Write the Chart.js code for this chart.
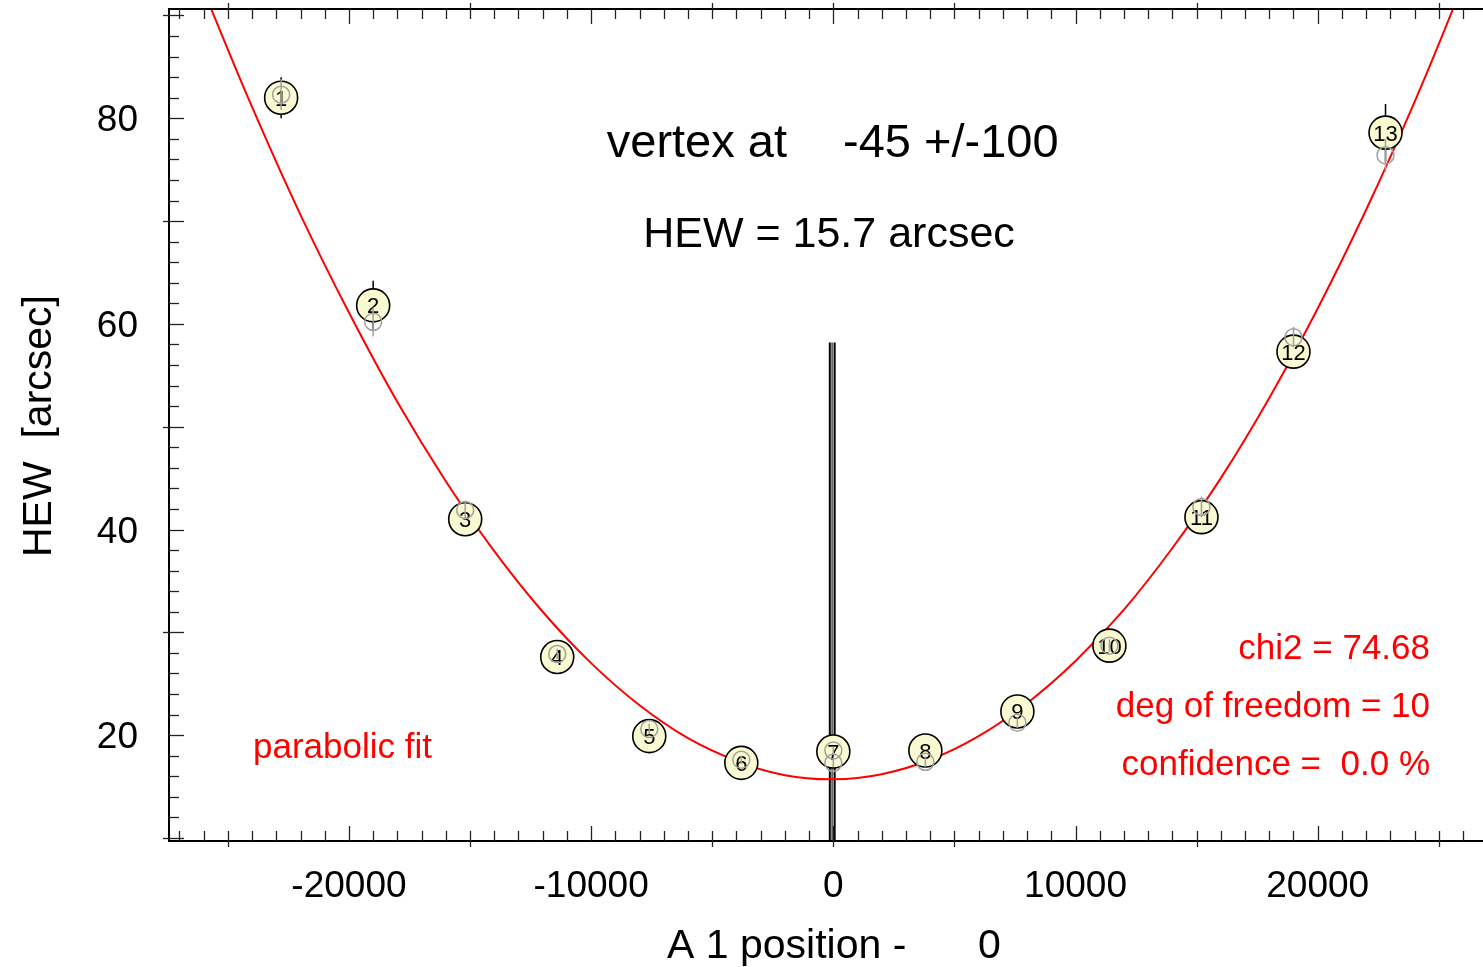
<!DOCTYPE html>
<html>
<head>
<meta charset="utf-8">
<title>HEW parabolic fit</title>
<script src="https://cdn.jsdelivr.net/npm/chart.js@4.4.1/dist/chart.umd.min.js"></script>
<style>
  html, body { margin: 0; padding: 0; background: #fff; }
  #wrap { width: 1483px; height: 967px; }
</style>
</head>
<body>
<div id="wrap"><canvas id="chart" width="1483" height="967"></canvas></div>
<script>
const posX = [-22800, -19000, -15200, -11400, -7600, -3800, 0, 3800, 7600, 11400, 15200, 19000, 22800];
const hewY = [82.0, 61.8, 41.0, 27.6, 19.9, 17.3, 18.4, 18.5, 22.3, 28.7, 41.2, 57.3, 78.6];
const hewErr = [2.0, 2.4, 1.2, 0.8, 0.6, 0.5, 0.5, 0.5, 0.6, 0.8, 1.2, 1.6, 2.8];
const pointNames = ['1', '2', '3', '4', '5', '6', '7', '8', '9', '10', '11', '12', '13'];

// grey markers (second measurement), position 0 has two of them
const grayX = [-22800, -19000, -15200, -11400, -7600, -3800, 0, 0, 3800, 7600, 11400, 15200, 19000, 22800];
const grayY = [82.3, 60.2, 41.9, 27.9, 20.6, 17.6, 18.5, 17.3, 17.4, 21.2, 28.7, 42.2, 58.7, 76.4];
const grayErr = [1.5, 1.4, 0.9, 0.5, 0.5, 0.4, 0.4, 0.4, 0.5, 0.5, 0.6, 1.0, 1.0, 1.6];

// red parabolic fit, sampled off the curve
const fitX = [-26000, -24000, -22000, -20000, -18000, -16000, -14000, -12000, -10000, -8000, -6000, -4000, -2000,
    0, 2000, 4000, 6000, 8000, 10000, 12000, 14000, 16000, 18000, 20000, 22000, 24000, 26000];
const fitY = [92.4, 81.1, 70.6, 61.1, 52.4, 44.7, 37.9, 32.0, 27.0, 22.9, 19.7, 17.5, 16.1,
    15.7, 16.2, 17.6, 19.9, 23.1, 27.2, 32.2, 38.2, 45.0, 52.8, 61.5, 71.1, 81.6, 93.0];

// vertex -45 +/- 100
const vertexX = [-145, -45, 55];
const vertexTop = 58.2;

// axis ranges and ticks
const X_MIN = -27430, X_MAX = 26825;
const Y_MIN = 9.7, Y_MAX = 90.63;
const xLabels = [-20000, -10000, 0, 10000, 20000];
const xHalfTicks = [-25000, -15000, -5000, 0, 5000, 15000, 25000];
const xMinorStep = 1000;
const yLabels = [20, 40, 60, 80];
const yHalfTicks = [10, 30, 50, 70, 90];
const yMinorStep = 2;

const FONT = "'Liberation Sans', Helvetica, Arial, sans-serif";
const YELLOW = '#fafad2';
const GRAY = '#a0a0a0';
const RED = '#ff0000';

function pairs(xs, ys) {
    return xs.map((x, i) => ({ x, y: ys[i] }));
}

// vertical segments separated by gaps
function barSegments(xs, ys, es) {
    const pts = [];
    xs.forEach((x, i) => {
        pts.push({ x, y: ys[i] - es[i] }, { x, y: ys[i] + es[i] }, { x, y: null });
    });
    return pts;
}

function vertexSegments(xs) {
    const pts = [];
    xs.forEach((x) => {
        pts.push({ x, y: Y_MIN }, { x, y: vertexTop }, { x, y: null });
    });
    return pts;
}

function range(from, to, step) {
    const out = [];
    for (let v = Math.ceil(from / step) * step; v <= to; v += step) out.push(v);
    return out;
}

// numbers inside the yellow circles, drawn right after that dataset
const pointNumbers = {
    id: 'pointNumbers',
    afterDatasetDraw(chart, args) {
        if (args.index !== 2) return;
        const { ctx, scales: { x, y } } = chart;
        ctx.save();
        ctx.fillStyle = '#000';
        ctx.font = `22px ${FONT}`;
        ctx.textAlign = 'center';
        ctx.textBaseline = 'alphabetic';
        posX.forEach((v, i) => {
            ctx.fillText(pointNames[i], x.getPixelForValue(v), y.getPixelForValue(hewY[i]) + 8);
        });
        ctx.restore();
    }
};

// frame, inward ticks, tick labels and annotations
const frame = {
    id: 'frame',
    afterDraw(chart) {
        const { ctx, chartArea: a, scales: { x, y } } = chart;
        ctx.save();

        ctx.strokeStyle = '#000';
        ctx.lineWidth = 2;
        ctx.beginPath();
        ctx.moveTo(a.right + 2, a.top);
        ctx.lineTo(a.left, a.top);
        ctx.lineTo(a.left, a.bottom);
        ctx.lineTo(a.right + 2, a.bottom);
        ctx.stroke();

        ctx.lineWidth = 1.3;
        ctx.strokeStyle = '#222';
        const line = (x1, y1, x2, y2) => {
            ctx.beginPath();
            ctx.moveTo(x1, y1);
            ctx.lineTo(x2, y2);
            ctx.stroke();
        };

        range(X_MIN, X_MAX, xMinorStep).forEach((v) => {
            const px = Math.round(x.getPixelForValue(v)) + 0.5;
            let inLen = 10, outLen = 0;
            if (xLabels.includes(v)) inLen = 15;
            if (xHalfTicks.includes(v)) outLen = 6;
            line(px, a.bottom + outLen, px, a.bottom - inLen);
            line(px, a.top - outLen, px, a.top + inLen);
        });

        range(Y_MIN, Y_MAX, yMinorStep).forEach((v) => {
            const py = Math.round(y.getPixelForValue(v)) + 0.5;
            let inLen = 10, outLen = 0;
            if (yLabels.includes(v) || yHalfTicks.includes(v)) inLen = 15;
            if (yHalfTicks.includes(v)) outLen = 6;
            line(a.left - outLen, py, a.left + inLen, py);
        });

        ctx.fillStyle = '#000';
        ctx.font = `37px ${FONT}`;
        ctx.textBaseline = 'alphabetic';
        ctx.textAlign = 'center';
        xLabels.forEach((v) => ctx.fillText(String(v), x.getPixelForValue(v), 897));
        ctx.textAlign = 'right';
        yLabels.forEach((v) => ctx.fillText(String(v), 138, y.getPixelForValue(v) + 13));

        // axis titles
        ctx.font = `41px ${FONT}`;
        ctx.textAlign = 'left';
        ctx.fillText('A 1 position -', 667, 958);
        ctx.fillText('0', 978, 958);
        ctx.save();
        ctx.translate(51, 426);
        ctx.rotate(-Math.PI / 2);
        ctx.textAlign = 'center';
        ctx.fillText('HEW  [arcsec]', 0, 0);
        ctx.restore();

        // fit result
        ctx.font = `47px ${FONT}`;
        ctx.textAlign = 'right';
        ctx.fillText('vertex at', 787, 157);
        ctx.textAlign = 'left';
        ctx.fillText('-45 +/-100', 843, 157);
        ctx.font = `43px ${FONT}`;
        ctx.textAlign = 'center';
        ctx.fillText('HEW = 15.7 arcsec', 829, 247);

        ctx.fillStyle = RED;
        ctx.font = `35px ${FONT}`;
        ctx.textAlign = 'left';
        ctx.fillText('parabolic fit', 253, 758);
        ctx.textAlign = 'right';
        ctx.fillText('chi2 = 74.68', 1430, 659);
        ctx.fillText('deg of freedom = 10', 1430, 717);
        ctx.fillText('confidence =  0.0 %', 1430, 775);

        ctx.restore();
    }
};

new Chart(document.getElementById('chart'), {
    type: 'scatter',
    data: {
        datasets: [
            {
                data: pairs(grayX, grayY),
                pointRadius: 8.5,
                pointBorderWidth: 1.5,
                pointBorderColor: GRAY,
                pointBackgroundColor: 'rgba(0,0,0,0)',
                showLine: false
            },
            {
                data: barSegments(grayX, grayY, grayErr),
                showLine: true,
                borderColor: GRAY,
                borderWidth: 1.5,
                pointRadius: 0,
                spanGaps: false
            },
            {
                data: pairs(posX, hewY),
                pointRadius: 16.5,
                pointBorderWidth: 1.6,
                pointBorderColor: '#000',
                pointBackgroundColor: YELLOW,
                showLine: false
            },
            {
                data: barSegments(posX, hewY, hewErr),
                showLine: true,
                borderColor: '#000',
                borderWidth: 1.5,
                pointRadius: 0,
                spanGaps: false
            },
            {
                data: pairs(fitX, fitY),
                showLine: true,
                borderColor: RED,
                borderWidth: 2,
                pointRadius: 0,
                tension: 0.4
            },
            {
                data: vertexSegments([vertexX[1]]),
                showLine: true,
                borderColor: '#666',
                borderWidth: 2,
                pointRadius: 0,
                spanGaps: false
            },
            {
                data: vertexSegments([vertexX[0], vertexX[2]]),
                showLine: true,
                borderColor: '#000',
                borderWidth: 2,
                pointRadius: 0,
                spanGaps: false
            }
        ]
    },
    options: {
        responsive: false,
        animation: false,
        devicePixelRatio: 1,
        layout: { autoPadding: false, padding: { left: 169, top: 9, right: 0, bottom: 126 } },
        plugins: {
            legend: { display: false },
            tooltip: { enabled: false }
        },
        scales: {
            x: { type: 'linear', min: X_MIN, max: X_MAX, display: false },
            y: { type: 'linear', min: Y_MIN, max: Y_MAX, display: false }
        }
    },
    plugins: [pointNumbers, frame]
});
</script>
</body>
</html>
